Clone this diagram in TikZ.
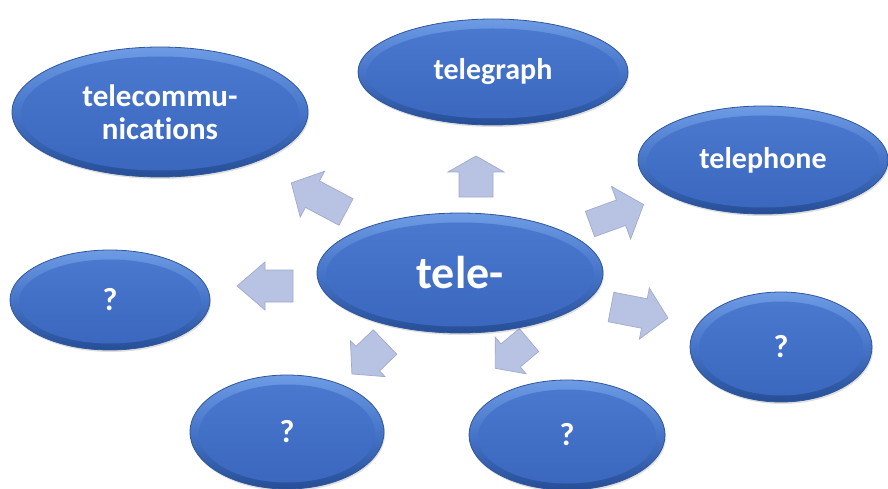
\documentclass[tikz,border=0pt]{standalone}
\usepackage{fontspec}
\setmainfont{Carlito}[Ligatures=NoCommon]
\usetikzlibrary{shapes.geometric,shadows,calc}
\definecolor{blobtop}{RGB}{110,155,228}
\definecolor{blobmid}{RGB}{70,116,200}
\definecolor{blobbot}{RGB}{38,78,150}
\definecolor{blobline}{RGB}{48,86,155}
\definecolor{innertop}{RGB}{76,122,208}
\definecolor{innerbot}{RGB}{58,102,190}
\definecolor{arrowfill}{RGB}{184,194,226}
\definecolor{arrowline}{RGB}{160,170,205}
\tikzset{
  blob/.style={ellipse, draw=blobline, line width=0.8pt,
    top color=blobtop, bottom color=blobbot, middle color=blobmid,
    text=white, font=\bfseries, align=center, inner sep=0pt,
    drop shadow={opacity=0.25, shadow xshift=1pt, shadow yshift=-2pt},
    path picture={
      \path let \p1=(path picture bounding box.north east),
                \p2=(path picture bounding box.center) in
        [top color=innertop, bottom color=innerbot]
        ($(\p2)+(0,-1.5pt)$) ellipse ({\x1-\x2-9pt} and {\y1-\y2-8pt});
    }},
  barrowstyle/.style={fill=arrowfill, draw=arrowline, line width=0.7pt, line join=miter}
}
% #1 tail centre, #2 angle, #3 length, #4 shaft width, #5 head width, #6 head length
\newcommand\blockarrow[6]{%
  \begin{scope}[shift={#1}, rotate=#2]
    \filldraw[barrowstyle] (0,{-#4/2}) -- ({#3-#6},{-#4/2}) -- ({#3-#6},{-#5/2}) -- (#3,0)
      -- ({#3-#6},{#5/2}) -- ({#3-#6},{#4/2}) -- (0,{#4/2}) -- cycle;
  \end{scope}}
\begin{document}
\begin{tikzpicture}[x=1pt,y=-1pt]
\useasboundingbox (0,0) rectangle (888,489);
% arrows
\blockarrow{(346,212)}{152}{62}{30}{52}{24}
\blockarrow{(476,197)}{90}{41}{34}{56}{16}
\blockarrow{(590,224)}{20}{57}{27}{56}{24}
\blockarrow{(611,307)}{-11}{58}{30}{52}{24}
\blockarrow{(293,286)}{180}{56}{32}{48}{28}
\blockarrow{(385,342)}{-136}{46}{34}{50}{22}
\blockarrow{(529,340)}{-140}{44}{30}{48}{20}
% ellipses
\node[blob, minimum width=286pt, minimum height=120pt, font=\bfseries\fontsize{46}{50}\selectfont] (tele) at (460,273) {tele-};
\node[blob, minimum width=270pt, minimum height=106pt, font=\bfseries\fontsize{30}{34}\selectfont] (graph) at (493,72) {telegraph};
\node[blob, minimum width=296pt, minimum height=130pt, font=\bfseries\fontsize{31}{33}\selectfont] (comm) at (160,112) {telecommu-\\nications};
\node[blob, minimum width=250pt, minimum height=108pt, font=\bfseries\fontsize{30}{34}\selectfont] (phone) at (763,160) {telephone};
\node[blob, minimum width=200pt, minimum height=100pt, font=\bfseries\fontsize{32}{36}\selectfont] (q1) at (110,300) {?};
\node[blob, minimum width=182pt, minimum height=110pt, font=\bfseries\fontsize{32}{36}\selectfont] (q2) at (781,347) {?};
\node[blob, minimum width=194pt, minimum height=114pt, font=\bfseries\fontsize{32}{36}\selectfont] (q3) at (287,432) {?};
\node[blob, minimum width=196pt, minimum height=110pt, font=\bfseries\fontsize{32}{36}\selectfont] (q4) at (567,435) {?};
\end{tikzpicture}
\end{document}
